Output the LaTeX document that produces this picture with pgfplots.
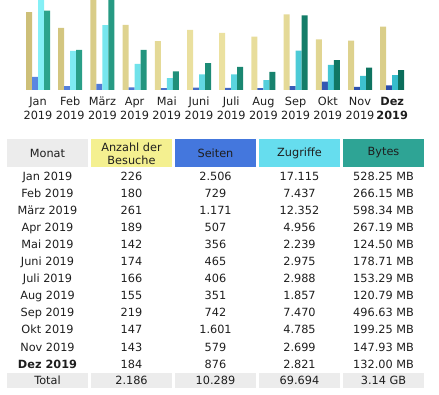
\documentclass[border=0pt]{standalone}
\usepackage{pgfplots}
\usepackage{pgfplotstable}
\pgfplotsset{compat=1.18}
\usepackage{fontspec}
\setmainfont{DejaVu Sans}
\definecolor{txt}{HTML}{1E1E1E}
\definecolor{hgray}{HTML}{ECECEC}
\definecolor{hyel}{HTML}{F4F090}
\definecolor{hblue}{HTML}{4477DD}
\definecolor{hcyan}{HTML}{66DDEE}
\definecolor{hgreen}{HTML}{2EA495}
\definecolor{ydark}{HTML}{CDBF78}
\definecolor{ylight}{HTML}{EDE3A2}
\definecolor{bdark}{HTML}{2A4CA8}
\definecolor{blight}{HTML}{5A86E0}
\definecolor{cdark}{HTML}{36BCCB}
\definecolor{clight}{HTML}{86F0F6}
\definecolor{gdark}{HTML}{0B6E5B}
\definecolor{glight}{HTML}{2CA48C}

\pgfplotstableread{
x visits pages hits bytes
0 226 2506 17115 528.25
1 180 729 7437 266.15
2 261 1171 12352 598.34
3 189 507 4956 267.19
4 142 356 2239 124.50
5 174 465 2975 178.71
6 166 406 2988 153.29
7 155 351 1857 120.79
8 219 742 7470 496.63
9 147 1601 4785 199.25
10 143 579 2699 147.93
11 184 876 2821 132.00
}\data

\pgfplotsset{
  barax/.style={scale only axis, width=386.4bp, height=90bp,
    at={(21.9bp,304bp)}, anchor=south west,
    xmin=-0.5, xmax=11.5, ymin=0, clip=false,
    ybar, bar width=6bp},
}

\begin{document}
\fontsize{11.3bp}{13.3bp}\selectfont
\begin{tikzpicture}[x=1bp,y=1bp]
\path[use as bounding box] (0,0) rectangle (439,394);

% visits
\begin{axis}[barax, ymax=261,
  axis line style={draw=none}, ytick=\empty,
  xtick=data, major tick length=0pt,
  xticklabels={{Jan\\2019},{Feb\\2019},{März\\2019},{Apr\\2019},{Mai\\2019},{Juni\\2019},{Juli\\2019},{Aug\\2019},{Sep\\2019},{Okt\\2019},{Nov\\2019},{\textbf{Dez}\\\textbf{2019}}},
  xticklabel style={align=center, font=\fontsize{11.3bp}{14bp}\selectfont, text=txt, yshift=-3bp},
  ]
\addplot[draw=none, left color=ydark, right color=ydark!60!ylight, middle color=ylight, bar shift=-9bp] table[x=x,y=visits]{\data};
\end{axis}

% pages and hits
\begin{axis}[barax, ymax=17115, hide axis]
\addplot[draw=none, left color=blight, right color=bdark, bar shift=-3bp] table[x=x,y=pages]{\data};
\addplot[draw=none, left color=clight, right color=cdark, bar shift=3bp] table[x=x,y=hits]{\data};
\end{axis}

% bytes
\begin{axis}[barax, ymax=598.34, hide axis]
\addplot[draw=none, left color=glight, right color=gdark, bar shift=9bp] table[x=x,y=bytes]{\data};
\end{axis}

% table header
\fill[hgray]  (7,227) rectangle (88,255);
\fill[hyel]   (91,227) rectangle (172,255);
\fill[hblue]  (175,227) rectangle (256,255);
\fill[hcyan]  (259,227) rectangle (340,255);
\fill[hgreen] (343,227) rectangle (424,255);
\node[text=txt] at (47.5,241) {Monat};
\node[text=txt, align=center, font=\fontsize{11.3bp}{13.3bp}\selectfont] at (131.5,240.5) {Anzahl der\\Besuche};
\node[text=txt] at (215.5,241) {Seiten};
\node[text=txt] at (299.5,241) {Zugriffe};
\node[text=txt] at (383.5,241) {Bytes};

% rows
\foreach \m/\v/\p/\h/\b [count=\i from 0] in {
  Jan 2019/226/2.506/17.115/528.25 MB,
  Feb 2019/180/729/7.437/266.15 MB,
  März 2019/261/1.171/12.352/598.34 MB,
  Apr 2019/189/507/4.956/267.19 MB,
  Mai 2019/142/356/2.239/124.50 MB,
  Juni 2019/174/465/2.975/178.71 MB,
  Juli 2019/166/406/2.988/153.29 MB,
  Aug 2019/155/351/1.857/120.79 MB,
  Sep 2019/219/742/7.470/496.63 MB,
  Okt 2019/147/1.601/4.785/199.25 MB,
  Nov 2019/143/579/2.699/147.93 MB,
  {\textbf{Dez 2019}}/184/876/2.821/132.00 MB}{
  \pgfmathsetmacro\yy{217.3-17.03*\i}
  \node[text=txt, text height=8bp, text depth=0bp] at (47.5,\yy) {\m};
  \node[text=txt, text height=8bp, text depth=0bp] at (131.5,\yy) {\v};
  \node[text=txt, text height=8bp, text depth=0bp] at (215.5,\yy) {\p};
  \node[text=txt, text height=8bp, text depth=0bp] at (299.5,\yy) {\h};
  \node[text=txt, text height=8bp, text depth=0bp] at (383.5,\yy) {\b};
}

% total row
\fill[hgray] (7,6) rectangle (88,21);
\fill[hgray] (91,6) rectangle (172,21);
\fill[hgray] (175,6) rectangle (256,21);
\fill[hgray] (259,6) rectangle (340,21);
\fill[hgray] (343,6) rectangle (424,21);
\foreach \x/\t in {47.5/Total,131.5/2.186,215.5/10.289,299.5/69.694,383.5/3.14 GB}{
  \node[text=txt, text height=8bp, text depth=0bp] at (\x,13.3) {\t};
}
\end{tikzpicture}
\end{document}
